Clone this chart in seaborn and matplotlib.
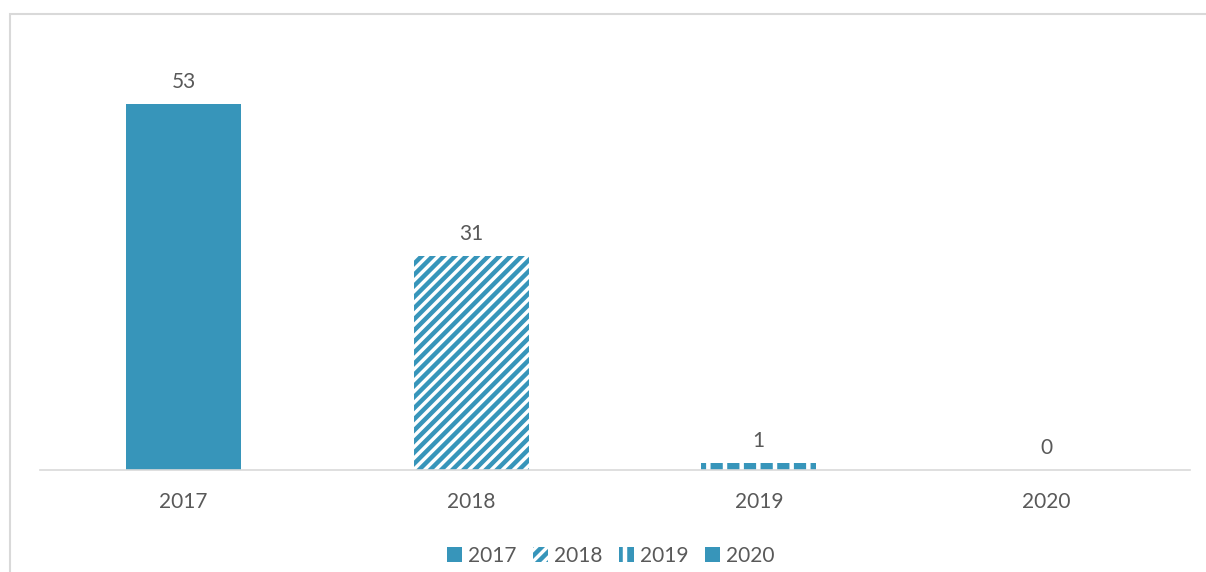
import matplotlib
matplotlib.use("Agg")
import matplotlib.pyplot as plt
import seaborn as sns
from matplotlib.patches import Patch, Rectangle

# data
years = ["2017", "2018", "2019", "2020"]
counts = [53, 31, 1, 0]
hatches = ["", "///", "|", ""]

BLUE = "#3795BA"
GREY_TEXT = "#595959"
GRID = "#D9D9D9"

sns.set_theme(style="white")
plt.rcParams["font.family"] = ["Lato", "DejaVu Sans"]
plt.rcParams["hatch.linewidth"] = 3.2

fig = plt.figure(figsize=(12.06, 5.72), dpi=100)
ax = fig.add_axes([40 / 1206, 1 - 470 / 572, 1150 / 1206, (470 - 56) / 572])

sns.barplot(x=years, y=counts, color=BLUE, width=0.4, saturation=1, ax=ax)

for bar, h in zip(ax.patches, hatches):
    bar.set_linewidth(0)
    if h == "///":
        bar.set_facecolor("white")
        bar.set_edgecolor(BLUE)
        bar.set_hatch(h)
    elif h == "|":
        bar.set_facecolor(BLUE)
        bar.set_edgecolor("white")
        bar.set_hatch(h)

ax.bar_label(ax.containers[0], labels=[str(v) for v in counts],
             padding=9, fontsize=15, color=GREY_TEXT)

ax.set_xlim(-0.5, 3.5)
ax.set_ylim(0, 60)
ax.set_xlabel("")
ax.set_ylabel("")
ax.set_yticks([])
for side in ["top", "right", "left"]:
    ax.spines[side].set_visible(False)
ax.spines["bottom"].set_color(GRID)
ax.spines["bottom"].set_linewidth(1.2)
ax.tick_params(axis="x", length=0, pad=16, labelsize=15, labelcolor=GREY_TEXT)

# legend
handles = []
for y, h in zip(years, hatches):
    if h == "///":
        handles.append(Patch(facecolor="white", edgecolor=BLUE, hatch=h, lw=0, label=y))
    elif h == "|":
        handles.append(Patch(facecolor=BLUE, edgecolor="white", hatch=h, lw=0, label=y))
    else:
        handles.append(Patch(facecolor=BLUE, lw=0, label=y))
fig.legend(handles=handles, loc="center", bbox_to_anchor=(611 / 1206, 1 - 556 / 572),
           ncol=4, frameon=False, fontsize=15, labelcolor=GREY_TEXT,
           handlelength=0.7, handleheight=0.7, handletextpad=0.3, columnspacing=0.8)

# chart area border (cropped)
fig.patches.append(Rectangle((10 / 1206, -0.1), 1.2, 1 - 14 / 572 + 0.1,
                             transform=fig.transFigure, fill=False,
                             edgecolor=GRID, lw=1.5))

fig.savefig("out.png", dpi=100)
